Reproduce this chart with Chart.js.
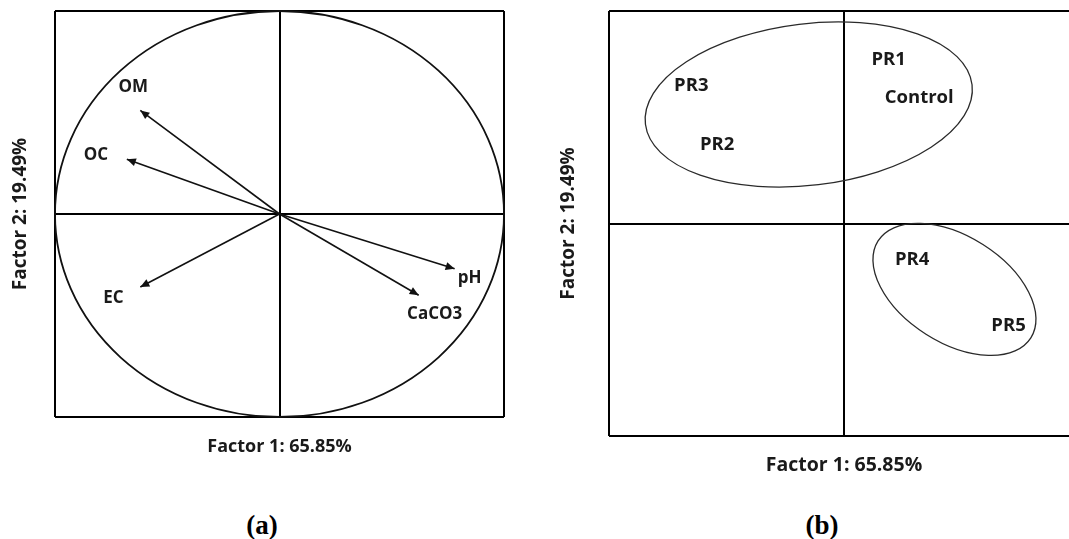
<!DOCTYPE html>
<html lang="en">
<head>
    <meta charset="UTF-8">
    <title>PCA - loadings and treatment scores</title>
    <script src="https://cdn.jsdelivr.net/npm/chart.js"></script>
    <style>
        html, body { margin: 0; padding: 0; background: #fff; overflow: hidden; }
        body { width: 1069px; height: 539px; position: relative; }
        .panel { position: absolute; top: 0; }
        #panelA { left: 0; width: 520px; height: 470px; }
        #panelB { left: 540px; width: 560px; height: 490px; }
        .caption {
            position: absolute; top: 510px; transform: translateX(-50%); line-height: 31px;
            font: bold 27px 'Liberation Serif', 'Times New Roman', serif; color: #000;
        }
    </style>
</head>
<body>
    <div class="panel" id="panelA"><canvas id="loadingChart"></canvas></div>
    <div class="panel" id="panelB"><canvas id="scoreChart"></canvas></div>
    <div class="caption" style="left:262px">(a)</div>
    <div class="caption" style="left:822px">(b)</div>

    <script>
        // (a) variable loadings on factor 1 / factor 2
        const variables = ['OM', 'OC', 'EC', 'pH', 'CaCO3'];
        const factor1Loadings = [-0.62, -0.68, -0.62, 0.78, 0.62];
        const factor2Loadings = [0.51, 0.27, -0.36, -0.27, -0.40];

        // (b) treatment scores
        const treatments = ['PR1', 'Control', 'PR3', 'PR2', 'PR4', 'PR5'];
        const factor1Scores = [0.19, 0.32, -0.65, -0.54, 0.29, 0.70];
        const factor2Scores = [0.77, 0.59, 0.65, 0.37, -0.17, -0.48];

        // groups circled in (b), in factor units
        const groupCenterX = [-0.15, 0.47];
        const groupCenterY = [0.56, -0.31];
        const groupRadiusX = [0.70, 0.385];
        const groupRadiusY = [0.38, 0.25];
        const groupTilt = [-6.9, 32.4]; // degrees

        const axisTicks = [-1, 0, 1];

        const FONT = '"Open Sans", sans-serif';
        const INK = '#1a1a1a';

        // where each arrow label sits next to its arrow tip (px)
        const labelOffsets = {
            OM: [-7, -23], OC: [-31, -4], EC: [-27, 11], pH: [15, 9], CaCO3: [16, 19]
        };

        // one factor axis: box edges and the zero cross come from the grid
        function factorAxis(title, size, pad, fit, horizontal) {
            return {
                type: 'linear',
                min: axisTicks[0],
                max: axisTicks[axisTicks.length - 1],
                afterBuildTicks: s => { s.ticks = axisTicks.map(v => ({ value: v })); },
                ticks: { display: false },
                grid: { color: '#000', lineWidth: 2, drawTicks: false },
                border: { display: false },
                title: {
                    display: true, text: title, color: INK,
                    font: { family: FONT, size: size, weight: 'bold' },
                    padding: horizontal ? { top: 0, bottom: pad } : { top: pad, bottom: 0 }
                },
                afterFit: s => { if (horizontal) s.height = fit; else s.width = fit; }
            };
        }

        // correlation circle, arrow heads and variable names
        const loadingArrows = {
            id: 'loadingArrows',
            afterDatasetsDraw(chart) {
                const ctx = chart.ctx;
                const { x, y } = chart.scales;
                const cx = x.getPixelForValue(0), cy = y.getPixelForValue(0);
                ctx.save();
                ctx.strokeStyle = '#111';
                ctx.lineWidth = 1.8;
                ctx.beginPath();
                ctx.ellipse(cx, cy, x.getPixelForValue(1) - cx, cy - y.getPixelForValue(1), 0, 0, 2 * Math.PI);
                ctx.stroke();

                ctx.fillStyle = '#111';
                ctx.font = 'bold 17px ' + FONT;
                ctx.textAlign = 'center';
                ctx.textBaseline = 'middle';
                chart.data.datasets.forEach((ds, i) => {
                    const pts = chart.getDatasetMeta(i).data;
                    const a = pts[0], b = pts[1];
                    const ang = Math.atan2(b.y - a.y, b.x - a.x);
                    const c = Math.cos(ang), s = Math.sin(ang);
                    ctx.beginPath();
                    ctx.moveTo(b.x, b.y);
                    ctx.lineTo(b.x - 9 * c + 4 * s, b.y - 9 * s - 4 * c);
                    ctx.lineTo(b.x - 9 * c - 4 * s, b.y - 9 * s + 4 * c);
                    ctx.closePath();
                    ctx.fill();
                    const off = labelOffsets[ds.label];
                    ctx.fillStyle = INK;
                    ctx.fillText(ds.label, b.x + off[0], b.y + off[1]);
                    ctx.fillStyle = '#111';
                });
                ctx.restore();
            }
        };

        // group ellipses and treatment names
        const scoreLabels = {
            id: 'scoreLabels',
            afterDatasetsDraw(chart) {
                const ctx = chart.ctx;
                const { x, y } = chart.scales;
                const ux = x.getPixelForValue(1) - x.getPixelForValue(0);
                const uy = y.getPixelForValue(0) - y.getPixelForValue(1);
                ctx.save();
                ctx.strokeStyle = '#2a2a2a';
                ctx.lineWidth = 1.3;
                groupCenterX.forEach((gx, i) => {
                    ctx.beginPath();
                    ctx.ellipse(x.getPixelForValue(gx), y.getPixelForValue(groupCenterY[i]),
                        groupRadiusX[i] * ux, groupRadiusY[i] * uy,
                        groupTilt[i] * Math.PI / 180, 0, 2 * Math.PI);
                    ctx.stroke();
                });

                ctx.fillStyle = INK;
                ctx.font = 'bold 18.5px ' + FONT;
                ctx.textAlign = 'center';
                ctx.textBaseline = 'middle';
                chart.getDatasetMeta(0).data.forEach((p, i) => {
                    ctx.fillText(treatments[i], p.x, p.y);
                });
                ctx.restore();
            }
        };

        const commonPlugins = { legend: { display: false }, tooltip: { enabled: false } };

        new Chart(document.getElementById('loadingChart'), {
            type: 'scatter',
            data: {
                datasets: variables.map((v, i) => ({
                    label: v,
                    data: [{ x: 0, y: 0 }, { x: factor1Loadings[i], y: factor2Loadings[i] }],
                    showLine: true,
                    borderColor: '#111',
                    borderWidth: 1.6,
                    pointRadius: 0
                }))
            },
            options: {
                responsive: true,
                maintainAspectRatio: false,
                animation: false,
                events: [],
                layout: { autoPadding: false, padding: { left: 0, top: 11, right: 16, bottom: 0 } },
                plugins: commonPlugins,
                scales: {
                    x: factorAxis('Factor 1: 65.85%', 18, 12, 53, true),
                    y: factorAxis('Factor 2: 19.49%', 19, 9, 55, false)
                }
            },
            plugins: [loadingArrows]
        });

        new Chart(document.getElementById('scoreChart'), {
            type: 'scatter',
            data: {
                datasets: [{
                    label: 'Treatments',
                    data: treatments.map((t, i) => ({ x: factor1Scores[i], y: factor2Scores[i] })),
                    pointRadius: 0
                }]
            },
            options: {
                responsive: true,
                maintainAspectRatio: false,
                animation: false,
                events: [],
                layout: { autoPadding: false, padding: { left: 0, top: 11, right: 21, bottom: 0 } },
                plugins: commonPlugins,
                scales: {
                    x: factorAxis('Factor 1: 65.85%', 19.5, 13, 54, true),
                    y: factorAxis('Factor 2: 19.49%', 19, 17, 69, false)
                }
            },
            plugins: [scoreLabels]
        });
    </script>
</body>
</html>
